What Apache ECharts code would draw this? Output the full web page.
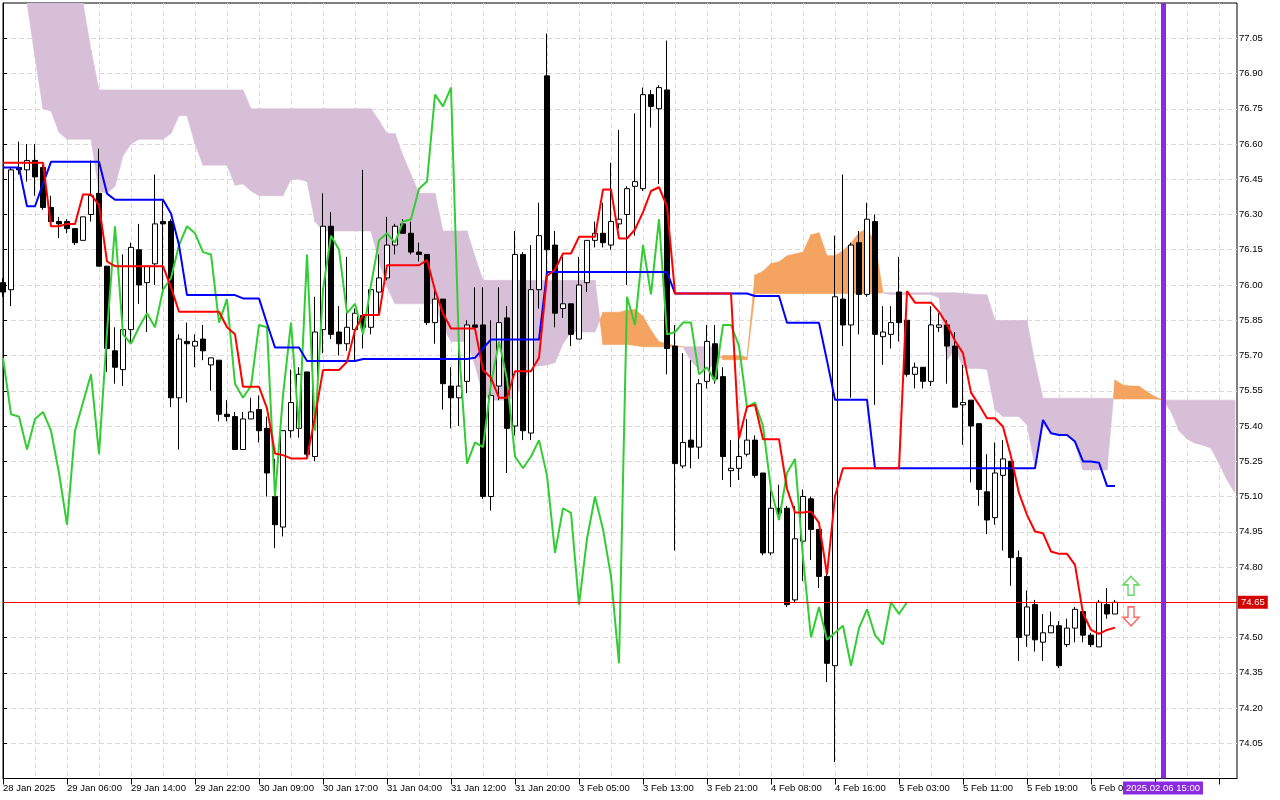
<!DOCTYPE html>
<html><head><meta charset="utf-8">
<script src="https://cdn.jsdelivr.net/npm/echarts@6/dist/echarts.min.js"></script>
<style>html,body{margin:0;padding:0;background:#fff;}#chart{width:1280px;height:800px;}</style>
</head><body><div id="chart"></div>
<script>
// time-axis labels, one every 8 hourly bars
const xTickLabels = ["28 Jan 2025","29 Jan 06:00","29 Jan 14:00","29 Jan 22:00","30 Jan 09:00","30 Jan 17:00","31 Jan 04:00","31 Jan 12:00","31 Jan 20:00","3 Feb 05:00","3 Feb 13:00","3 Feb 21:00","4 Feb 08:00","4 Feb 16:00","5 Feb 03:00","5 Feb 11:00","5 Feb 19:00","6 Feb 06:00"];

const open = [76.01,75.98,76.50,76.49,76.53,76.50,76.33,76.27,76.27,76.24,
76.19,76.30,76.39,76.08,75.72,75.64,75.81,76.15,76.01,76.09,
76.27,76.27,75.52,75.76,75.74,75.77,75.66,75.68,75.45,75.44,
75.30,75.43,75.47,75.39,75.10,74.97,75.38,75.39,75.63,75.27,
75.81,76.25,75.80,75.75,75.81,75.87,75.82,75.97,76.03,76.17,
76.26,76.22,76.14,76.13,75.84,75.94,75.57,75.52,75.59,75.83,
75.83,75.10,75.57,75.86,75.40,76.13,75.37,75.98,76.89,76.17,
75.90,75.92,75.77,76.01,76.19,76.22,76.17,76.26,76.30,76.42,
76.41,76.81,76.75,76.83,75.74,75.23,75.34,75.31,75.59,75.75,
75.61,75.21,75.22,75.28,75.34,75.20,74.86,75.05,75.05,74.66,
74.91,75.09,74.96,74.76,74.38,75.94,75.83,76.18,75.96,76.27,
75.78,75.79,75.97,75.85,75.62,75.65,75.59,75.82,75.83,75.74,
75.49,75.51,75.41,75.12,75.01,75.19,75.25,74.84,74.51,74.64,
74.48,74.52,74.55,74.47,74.54,74.61,74.51,74.46,74.64,74.60];

const close = [75.97,76.49,76.49,76.53,76.46,76.33,76.27,76.26,76.24,76.18,
76.29,76.38,76.08,75.73,75.65,75.81,76.16,76.00,76.08,76.26,
76.26,75.52,75.77,75.75,75.76,75.72,75.69,75.45,75.44,75.30,
75.43,75.46,75.38,75.20,74.98,75.38,75.50,75.62,75.28,75.80,
76.25,75.79,75.75,75.82,75.88,75.82,75.98,76.03,76.17,76.25,
76.22,76.14,76.13,75.84,75.94,75.58,75.52,75.57,75.83,75.82,
75.10,75.53,75.84,75.39,76.13,75.38,75.98,76.21,76.15,75.88,
75.92,75.79,76.00,76.19,76.22,76.18,76.27,76.28,76.41,76.44,
76.81,76.76,76.84,75.73,75.24,75.33,75.31,75.58,75.76,75.60,
75.27,75.22,75.27,75.34,75.19,74.86,75.05,75.03,74.64,74.92,
75.10,74.96,74.76,74.39,75.95,75.83,76.17,75.96,76.28,75.79,
75.80,75.84,75.84,75.62,75.65,75.59,75.83,75.83,75.74,75.48,
75.50,75.40,75.13,75.00,75.20,75.26,74.84,74.50,74.63,74.49,
74.52,74.55,74.38,74.54,74.62,74.51,74.47,74.65,74.60,74.65];

const low = [75.95,75.91,76.47,76.44,76.38,76.32,76.26,76.20,76.22,76.17,
76.19,76.27,76.08,75.63,75.58,75.57,75.75,75.92,75.80,76.00,
75.96,75.48,75.30,75.50,75.65,75.68,75.55,75.42,75.42,75.30,
75.30,75.43,75.33,75.10,74.88,74.93,75.35,75.35,75.27,75.25,
75.71,75.77,75.70,75.72,75.68,75.73,75.79,75.87,76.02,76.13,
76.22,76.13,76.10,75.83,75.75,75.47,75.39,75.40,75.54,75.81,
75.09,75.04,75.51,75.20,75.36,75.34,75.34,75.90,76.02,75.82,
75.86,75.74,75.77,75.97,76.16,76.16,76.15,76.24,76.00,76.21,
76.40,76.67,76.43,75.62,74.87,75.22,75.22,75.26,75.56,75.58,
75.17,75.14,75.17,75.27,75.18,74.85,74.85,75.00,74.63,74.65,
74.74,74.83,74.71,74.31,73.97,75.74,75.52,75.79,75.95,75.49,
75.66,75.73,75.76,75.61,75.56,75.56,75.57,75.80,75.58,75.48,
75.32,75.16,75.06,74.94,74.98,74.87,74.72,74.40,74.46,74.44,
74.40,74.52,74.37,74.46,74.48,74.48,74.46,74.46,74.58,74.60];

const high = [76.03,76.50,76.61,76.60,76.60,76.51,76.38,76.29,76.28,76.24,
76.29,76.53,76.58,76.08,75.82,76.13,76.18,76.26,76.08,76.47,
76.36,76.28,75.79,75.84,75.79,75.83,75.69,75.68,75.51,75.46,
75.46,75.52,75.53,75.44,75.26,75.38,75.64,75.65,75.63,75.95,
76.39,76.31,75.91,76.12,75.90,76.49,75.98,76.13,76.29,76.26,
76.28,76.27,76.18,76.13,75.98,75.94,75.65,75.74,75.85,75.99,
75.99,75.85,75.99,75.91,76.23,76.14,76.17,76.35,77.07,76.23,
76.12,75.92,76.12,76.19,76.27,76.35,76.52,76.66,76.42,76.73,
76.84,76.83,76.85,77.04,75.83,75.71,75.68,75.60,75.83,75.83,
75.65,75.34,75.35,75.43,75.36,75.20,75.15,75.15,75.06,75.06,
75.13,75.10,74.96,74.77,76.21,76.47,76.18,76.23,76.35,76.30,
75.91,75.91,76.12,75.85,75.67,75.65,75.91,75.88,75.85,75.80,
75.66,75.51,75.41,75.28,75.33,75.34,75.25,74.87,74.70,74.66,
74.60,74.61,74.57,74.58,74.63,74.62,74.52,74.66,74.71,74.66];

// Tenkan-sen (red)
const tenkan = [76.52,76.52,76.52,76.52,76.52,76.52,76.25,76.25,76.26,76.26,
76.385,76.385,76.34,76.10,76.08,76.08,76.08,76.08,76.08,76.08,
76.08,75.99,75.886,75.886,75.886,75.886,75.886,75.886,75.82,75.79,
75.567,75.567,75.567,75.475,75.283,75.276,75.262,75.262,75.262,75.44,
75.638,75.638,75.638,75.673,75.808,75.872,75.872,75.872,76.084,76.084,
76.084,76.084,76.084,76.106,75.978,75.879,75.815,75.815,75.815,75.815,
75.638,75.605,75.52,75.52,75.633,75.633,75.633,75.69,76.038,76.066,
76.134,76.134,76.205,76.205,76.205,76.406,76.406,76.198,76.198,76.236,
76.31,76.40,76.416,76.335,75.964,75.964,75.964,75.964,75.964,75.964,
75.964,75.964,75.347,75.482,75.49,75.344,75.344,75.344,75.133,75.032,
75.032,75.036,74.988,74.768,75.101,75.22,75.22,75.22,75.22,75.22,
75.22,75.22,75.22,75.974,75.925,75.925,75.925,75.886,75.832,75.763,
75.71,75.542,75.49,75.433,75.433,75.397,75.27,75.114,75.022,74.951,
74.944,74.866,74.856,74.856,74.809,74.603,74.532,74.515,74.532,74.542];

// Kijun-sen (blue)
const kijun = [76.50,76.50,76.50,76.335,76.335,76.43,76.524,76.524,76.524,76.524,
76.524,76.524,76.524,76.389,76.363,76.363,76.363,76.363,76.363,76.363,
76.363,76.304,76.17,75.957,75.957,75.957,75.957,75.957,75.957,75.957,
75.943,75.943,75.943,75.836,75.734,75.734,75.734,75.734,75.677,75.677,
75.677,75.677,75.677,75.677,75.677,75.685,75.685,75.685,75.685,75.685,
75.685,75.685,75.685,75.685,75.685,75.685,75.685,75.685,75.685,75.69,
75.73,75.768,75.768,75.768,75.768,75.768,75.768,75.768,76.055,76.055,
76.055,76.055,76.055,76.055,76.055,76.055,76.055,76.055,76.055,76.055,
76.055,76.055,76.055,76.055,75.964,75.964,75.964,75.964,75.964,75.964,
75.964,75.964,75.964,75.964,75.953,75.953,75.953,75.953,75.839,75.839,
75.839,75.839,75.839,75.678,75.512,75.512,75.512,75.512,75.512,75.22,
75.22,75.22,75.22,75.22,75.22,75.22,75.22,75.22,75.22,75.22,
75.22,75.22,75.22,75.22,75.22,75.22,75.22,75.22,75.22,75.22,
75.426,75.369,75.362,75.362,75.334,75.249,75.249,75.244,75.145,75.145];

// Senkou span A / B (cloud, 26 bars ahead)
const spanA = [null,null,null,77.22,76.97,76.75,76.74,76.65,76.62,76.62,
76.62,76.62,76.40,76.39,76.42,76.55,76.60,76.62,76.62,76.62,
76.62,76.645,76.72,76.72,76.60,76.51,76.51,76.51,76.51,76.425,
76.43,76.40,76.38,76.38,76.38,76.38,76.45,76.45,76.44,76.27,
76.23,76.23,76.23,76.23,76.23,76.23,76.23,76.10,75.99,75.92,
75.92,75.92,75.92,75.92,75.92,75.82,75.76,75.76,75.76,75.66,
75.53,75.51,75.51,75.51,75.52,75.58,75.655,75.655,75.66,75.67,
75.75,75.80,75.80,75.80,75.80,75.884,75.884,75.884,75.893,75.896,
75.867,75.807,75.758,75.75,75.742,75.737,75.677,75.64,75.636,75.669,
75.70,75.70,75.70,75.693,76.043,76.059,76.091,76.099,76.124,76.132,
76.14,76.214,76.222,76.125,76.125,76.146,76.179,76.222,76.239,76.182,
75.966,75.96,75.96,75.96,75.96,75.96,75.96,75.946,75.68,75.73,
75.65,75.645,75.645,75.64,75.468,75.44,75.44,75.44,75.405,75.227,
75.405,75.369,75.362,75.362,75.327,75.213,75.213,75.213,75.213,75.596,
75.575,75.57,75.57,75.546,75.525,75.51,75.461,75.38,75.345,75.327,
75.318,75.305,75.24,75.17,75.115];

const spanB = [null,null,null,77.40,77.40,77.40,77.40,77.40,77.40,77.40,
77.25,77.00,76.83,76.83,76.83,76.83,76.83,76.83,76.83,76.83,
76.83,76.83,76.83,76.83,76.83,76.83,76.83,76.83,76.83,76.83,
76.83,76.75,76.75,76.75,76.75,76.75,76.75,76.75,76.75,76.75,
76.75,76.75,76.75,76.75,76.75,76.75,76.75,76.70,76.645,76.645,
76.55,76.47,76.39,76.39,76.39,76.23,76.23,76.23,76.23,76.12,
76.02,76.02,76.02,76.02,76.02,76.02,76.02,76.02,76.02,76.02,
76.02,76.02,76.02,76.02,76.02,75.747,75.747,75.747,75.747,75.743,
75.737,75.737,75.737,75.737,75.737,75.737,75.737,75.737,75.737,75.737,
75.682,75.682,75.682,75.682,75.964,75.964,75.964,75.964,75.964,75.964,
75.964,75.964,75.964,75.964,75.964,75.964,75.964,75.964,75.964,75.964,
75.967,75.967,75.967,75.967,75.967,75.967,75.967,75.967,75.967,75.967,
75.965,75.962,75.96,75.958,75.849,75.849,75.849,75.849,75.849,75.667,
75.518,75.518,75.518,75.518,75.518,75.518,75.518,75.518,75.518,75.515,
75.515,75.515,75.515,75.515,75.515,75.512,75.51,75.51,75.51,75.51,
75.51,75.51,75.51,75.51,75.51];

const chikouShift = 26;          // Chikou span = close plotted 26 bars back
const priceLine = 74.65;         // current bid
const vLineBar = 145;            // vertical line object
const vLineLabel = "2025.02.06 15:00";
const signalBar = 141;
const upSignal = 74.72;
const downSignal = 74.59;

const ORANGE = '#F4A460', THISTLE = '#D8BFD8';

const candleData = open.map((o, i) => [i, o, close[i], low[i], high[i]]);
const tenkanData = tenkan.map((v, i) => [i, v]);
const kijunData = kijun.map((v, i) => [i, v]);
const chikouData = [];
for (let i = chikouShift; i < close.length; i++) chikouData.push([i - chikouShift, close[i]]);
const cloudSegs = [];
for (let i = 0; i < spanA.length - 1; i++) {
  if (spanA[i] != null && spanA[i + 1] != null) cloudSegs.push([i, spanA[i], spanB[i], spanA[i + 1], spanB[i + 1]]);
}

const chart = echarts.init(document.getElementById('chart'), null, {renderer: 'canvas'});
const FONT = 'Liberation Sans';
const gridLine = {show: true, showMinLine: false, showMaxLine: false, lineStyle: {color: '#dadada', width: 1, type: [5, 3]}};
chart.setOption({
  animation: false,
  backgroundColor: '#ffffff',
  textStyle: {fontFamily: FONT},
  grid: {left: 3, right: 43, top: 3, bottom: 21.5, show: true, borderColor: '#000', borderWidth: 1, backgroundColor: '#fff'},
  xAxis: [
    {type: 'value', min: 0, max: 154.25, interval: 4, position: 'bottom',
     axisLine: {show: false}, axisTick: {show: false}, axisLabel: {show: false},
     splitLine: gridLine},
    {type: 'value', min: 0, max: 154.25, interval: 8, position: 'bottom',
     axisLine: {show: true, lineStyle: {color: '#000', width: 1}},
     axisTick: {show: true, length: 6, lineStyle: {color: '#000'}},
     splitLine: {show: false},
     axisLabel: {show: true, align: 'left', margin: 5, fontSize: 9.5, color: '#000', fontFamily: FONT,
       showMaxLabel: false, showMinLabel: true,
       formatter: v => xTickLabels[Math.round(v / 8)] || ''}}
  ],
  yAxis: {
    type: 'value', position: 'right', min: 73.90, max: 77.20, interval: 0.15, scale: true,
    axisLine: {show: true, lineStyle: {color: '#000'}},
    axisTick: {show: true, length: 4, lineStyle: {color: '#000'}},
    axisLabel: {show: true, margin: 2, fontSize: 9.5, color: '#000', fontFamily: FONT,
      showMinLabel: false, showMaxLabel: false, formatter: v => v.toFixed(2)},
    splitLine: gridLine
  },
  series: [
    {
      type: 'custom', name: 'cloud', xAxisIndex: 0, z: 1, clip: true, silent: true,
      data: cloudSegs,
      encode: {x: [0], y: [1, 2, 3, 4]},
      renderItem: function (params, api) {
        const x0 = api.value(0), a0 = api.value(1), b0 = api.value(2), a1 = api.value(3), b1 = api.value(4);
        const cs = params.coordSys;
        const P = (x, y) => { const p = api.coord([x, y]); return [p[0], Math.max(cs.y, Math.min(cs.y + cs.height, p[1]))]; };
        const d0 = a0 - b0, d1 = a1 - b1;
        const poly = (pts, col) => ({type: 'polygon', shape: {points: pts}, style: {fill: col, stroke: col, lineWidth: 0.6}});
        const children = [];
        if ((d0 >= 0) === (d1 >= 0)) {
          children.push(poly([P(x0, a0), P(x0 + 1, a1), P(x0 + 1, b1), P(x0, b0)], (d0 + d1) >= 0 ? ORANGE : THISTLE));
        } else {
          const t = d0 / (d0 - d1);
          const xc = x0 + t, yc = a0 + (a1 - a0) * t;
          children.push(poly([P(x0, a0), P(xc, yc), P(x0, b0)], d0 >= 0 ? ORANGE : THISTLE));
          children.push(poly([P(xc, yc), P(x0 + 1, a1), P(x0 + 1, b1)], d1 >= 0 ? ORANGE : THISTLE));
        }
        return {type: 'group', children: children};
      }
    },
    {
      type: 'candlestick', name: 'price', xAxisIndex: 0, z: 3, clip: true, barWidth: 5,
      data: candleData,
      encode: {x: 0, y: [1, 2, 3, 4]},
      itemStyle: {color: '#ffffff', color0: '#000000', borderColor: '#000000', borderColor0: '#000000', borderColorDoji: '#000000', borderWidth: 1},
      markLine: {
        symbol: ['none', 'none'], silent: true, animation: false, precision: 2,
        data: [
          {yAxis: priceLine, lineStyle: {color: '#ff0000', width: 1, type: 'solid'},
           label: {show: true, position: 'end', distance: 1, formatter: () => priceLine.toFixed(2),
                   color: '#fff', backgroundColor: '#d40000', padding: [2, 3, 1, 3], fontSize: 9.5, fontFamily: FONT}},
          {xAxis: vLineBar, lineStyle: {color: '#8a2be2', width: 5, type: 'solid'},
           label: {show: true, position: 'start', distance: 3, formatter: () => vLineLabel,
                   color: '#fff', backgroundColor: '#8a2be2', padding: [2, 3, 1, 3], fontSize: 9.5, fontFamily: FONT}}
        ]
      }
    },
    {type: 'line', name: 'Chikou', xAxisIndex: 0, z: 4, data: chikouData, symbol: 'none', clip: true,
     lineStyle: {color: '#32cd32', width: 2}},
    {type: 'line', name: 'Kijun', xAxisIndex: 0, z: 4, data: kijunData, symbol: 'none', clip: true,
     lineStyle: {color: '#0000ff', width: 2}},
    {type: 'line', name: 'Tenkan', xAxisIndex: 0, z: 4, data: tenkanData, symbol: 'none', clip: true,
     lineStyle: {color: '#ff0000', width: 2}},
    {type: 'scatter', name: 'buy', xAxisIndex: 0, z: 5, data: [[signalBar, upSignal]],
     symbol: 'path://M8,0 L16,9 L11,9 L11,20 L5,20 L5,9 L0,9 Z', symbolSize: [16, 19],
     itemStyle: {color: '#ffffff', borderColor: '#3ccf3c', borderWidth: 1.5}},
    {type: 'scatter', name: 'sell', xAxisIndex: 0, z: 5, data: [[signalBar, downSignal]],
     symbol: 'path://M5,0 L11,0 L11,11 L16,11 L8,20 L0,11 L5,11 Z', symbolSize: [16, 19],
     itemStyle: {color: '#ffffff', borderColor: '#ff4444', borderWidth: 1.5}}
  ]
});
</script></body></html>
